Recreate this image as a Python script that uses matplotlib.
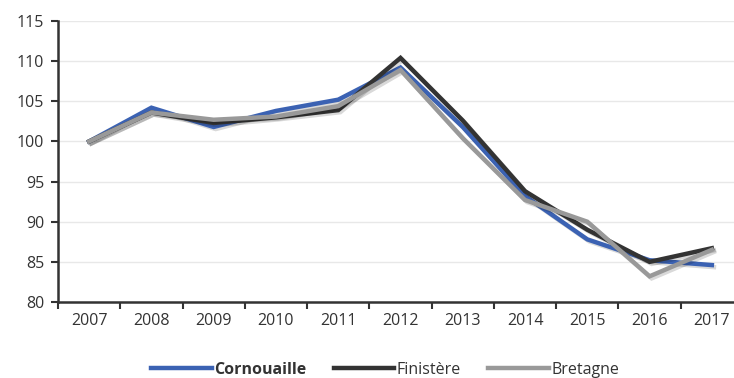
import matplotlib
matplotlib.use("Agg")
import matplotlib.pyplot as plt
import matplotlib.patheffects as pe
import numpy as np

years = ["2007", "2008", "2009", "2010", "2011", "2012", "2013", "2014", "2015", "2016", "2017"]
cornouaille = [100.0, 104.2, 101.8, 103.8, 105.2, 109.2, 101.8, 93.2, 87.8, 85.2, 84.6]
finistere = [100.0, 103.6, 102.3, 103.0, 103.9, 110.4, 102.6, 93.8, 89.0, 85.0, 86.7]
bretagne = [100.0, 103.6, 102.7, 103.1, 104.4, 108.9, 100.4, 92.7, 90.0, 83.2, 86.5]

plt.rcParams["font.family"] = ["Open Sans", "DejaVu Sans"]

fig = plt.figure(figsize=(7.34, 3.78), dpi=100)
W, H = 734, 378
ax = fig.add_axes([58 / W, (H - 302) / H, 685 / W, 281 / H])

x = np.arange(len(years))
shadow = [pe.SimpleLineShadow(offset=(1.5, -1.5), alpha=0.15, shadow_color="k"), pe.Normal()]
ax.plot(x, cornouaille, color="#3b62b3", lw=3.2, solid_joinstyle="miter",
        label="Cornouaille", zorder=3, path_effects=shadow)
ax.plot(x, finistere, color="#333333", lw=3.2, solid_joinstyle="miter",
        label="Finistère", zorder=4, path_effects=shadow)
ax.plot(x, bretagne, color="#999999", lw=3.2, solid_joinstyle="miter",
        label="Bretagne", zorder=5, path_effects=shadow)

ax.set_xlim(-0.5, len(years) - 0.5)
ax.set_ylim(80, 115)
ax.set_yticks(np.arange(80, 116, 5))
ax.set_xticks(x)
ax.set_xticklabels(years)
ax.set_xticks(np.arange(-0.5, len(years), 1), minor=True)
ax.tick_params(axis="x", which="major", length=0, pad=8, labelsize=11.5, colors="#333333")
ax.tick_params(axis="x", which="minor", length=5, width=1.5, color="#333333", direction="out")
ax.tick_params(axis="y", length=5, width=1.5, color="#333333", labelsize=11.5,
               labelcolor="#333333", pad=5)

ax.grid(axis="y", color="#e8e8e8", lw=1)
ax.set_axisbelow(True)
for s in ["top", "right"]:
    ax.spines[s].set_visible(False)
ax.spines["left"].set_color("#333333")
ax.spines["left"].set_linewidth(1.8)
ax.spines["bottom"].set_color("#333333")
ax.spines["bottom"].set_linewidth(1.8)

leg = fig.legend(loc="center", bbox_to_anchor=(385 / W, 1 - 370 / H), ncol=3,
                 frameon=False, fontsize=11.5, handlelength=3.8, handletextpad=0.15,
                 columnspacing=1.7)
for t in leg.get_texts():
    t.set_color("#333333")
leg.get_texts()[0].set_fontweight("bold")
for h in leg.get_lines():
    h.set_path_effects([])

fig.savefig("out.png", dpi=100)
